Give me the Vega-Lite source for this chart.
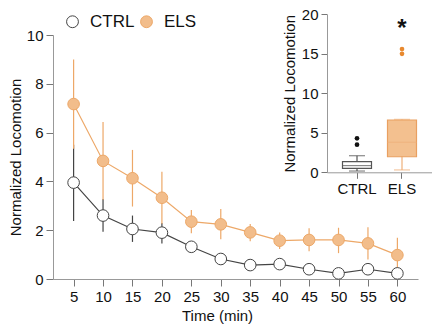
{
  "$schema": "https://vega.github.io/schema/vega-lite/v6.json",
  "width": 365,
  "height": 244,
  "autosize": {"type": "none"},
  "padding": {"left": 53, "top": 35, "right": 14, "bottom": 47},
  "config": {
    "view": {"stroke": null},
    "font": "Liberation Sans",
    "axis": {
      "labelFont": "Liberation Sans",
      "titleFont": "Liberation Sans",
      "labelColor": "#111",
      "titleColor": "#111",
      "titleFontWeight": "normal",
      "domainColor": "#999",
      "tickColor": "#777",
      "grid": false,
      "labelFontSize": 15,
      "titleFontSize": 15
    },
    "legend": {
      "labelFont": "Liberation Sans"
    }
  },
  "datasets": {
    "main": [
      {"time": 5, "group": "CTRL", "mean": 3.95, "lo": 2.38, "hi": 5.5},
      {"time": 10, "group": "CTRL", "mean": 2.6, "lo": 1.94, "hi": 3.28},
      {"time": 15, "group": "CTRL", "mean": 2.05, "lo": 1.52, "hi": 2.6},
      {"time": 20, "group": "CTRL", "mean": 1.9, "lo": 1.45, "hi": 2.3},
      {"time": 25, "group": "CTRL", "mean": 1.32, "lo": 1.15, "hi": 1.5},
      {"time": 30, "group": "CTRL", "mean": 0.82, "lo": 0.7, "hi": 0.95},
      {"time": 35, "group": "CTRL", "mean": 0.57, "lo": 0.47, "hi": 0.67},
      {"time": 40, "group": "CTRL", "mean": 0.61, "lo": 0.5, "hi": 0.72},
      {"time": 45, "group": "CTRL", "mean": 0.4, "lo": 0.32, "hi": 0.48},
      {"time": 50, "group": "CTRL", "mean": 0.23, "lo": 0.16, "hi": 0.3},
      {"time": 55, "group": "CTRL", "mean": 0.4, "lo": 0.3, "hi": 0.5},
      {"time": 60, "group": "CTRL", "mean": 0.23, "lo": 0.16, "hi": 0.3},
      {"time": 5, "group": "ELS", "mean": 7.17, "lo": 5.34, "hi": 9.0},
      {"time": 10, "group": "ELS", "mean": 4.84, "lo": 3.25, "hi": 6.43},
      {"time": 15, "group": "ELS", "mean": 4.13, "lo": 2.97, "hi": 5.29},
      {"time": 20, "group": "ELS", "mean": 3.33, "lo": 2.26, "hi": 4.4},
      {"time": 25, "group": "ELS", "mean": 2.35, "lo": 1.88, "hi": 2.83},
      {"time": 30, "group": "ELS", "mean": 2.24, "lo": 1.63, "hi": 2.87},
      {"time": 35, "group": "ELS", "mean": 1.91, "lo": 1.55, "hi": 2.25},
      {"time": 40, "group": "ELS", "mean": 1.57, "lo": 1.23, "hi": 1.91},
      {"time": 45, "group": "ELS", "mean": 1.6, "lo": 1.14, "hi": 2.08},
      {"time": 50, "group": "ELS", "mean": 1.6, "lo": 1.06, "hi": 2.1},
      {"time": 55, "group": "ELS", "mean": 1.46, "lo": 0.8, "hi": 2.12},
      {"time": 60, "group": "ELS", "mean": 0.98, "lo": 0.28, "hi": 1.69}
    ],
    "box": [
      {"group": "CTRL", "min": 0.16, "q1": 0.5, "median": 0.85, "q3": 1.34, "max": 2.1},
      {"group": "ELS", "min": 0.3, "q1": 1.97, "median": 3.8, "q3": 6.62, "max": 6.7}
    ],
    "outliers": [
      {"group": "CTRL", "value": 3.5},
      {"group": "CTRL", "value": 4.3},
      {"group": "ELS", "value": 15.0},
      {"group": "ELS", "value": 15.6}
    ],
    "sig": [
      {"group": "ELS", "value": 17.2, "label": "*"}
    ]
  },
  "layer": [
    {
      "data": {"name": "main"},
      "encoding": {
        "x": {
          "field": "time",
          "type": "quantitative",
          "scale": {"domain": [1.5, 63.5], "nice": false, "zero": false},
          "axis": {
            "orient": "bottom",
            "values": [5, 10, 15, 20, 25, 30, 35, 40, 45, 50, 55, 60],
            "title": "Time (min)",
            "tickSize": 7,
            "labelPadding": 3,
            "titleX": 164,
            "titleY": 41,
            "titleBaseline": "alphabetic"
          }
        }
      },
      "layer": [
        {
          "mark": {"type": "rule", "strokeWidth": 1.2},
          "encoding": {
            "y": {"field": "lo", "type": "quantitative", "scale": {"domain": [0, 10], "nice": false}},
            "y2": {"field": "hi"},
            "stroke": {"field": "group", "type": "nominal", "scale": {"domain": ["CTRL", "ELS"], "range": ["#444444", "#EDA868"]}}
          }
        },
        {
          "mark": {"type": "line", "strokeWidth": 1.2},
          "encoding": {
            "y": {"field": "mean", "type": "quantitative"},
            "stroke": {"field": "group", "type": "nominal"},
            "detail": {"field": "group"}
          }
        },
        {
          "mark": {"type": "point", "shape": "circle", "filled": true, "size": 135, "strokeWidth": 1, "opacity": 1},
          "encoding": {
            "y": {
              "field": "mean",
              "type": "quantitative",
              "axis": {
                "orient": "left",
                "values": [0, 2, 4, 6, 8, 10],
                "title": "Normalized Locomotion",
                "tickSize": 7,
                "labelPadding": 3,
                "titlePadding": 3
              }
            },
            "fill": {
              "field": "group",
              "type": "nominal",
              "scale": {"domain": ["CTRL", "ELS"], "range": ["#ffffff", "#F2BD8B"]},
              "legend": {
                "title": null,
                "orient": "none",
                "legendX": 11,
                "legendY": -22,
                "direction": "horizontal",
                "symbolType": "circle",
                "symbolSize": 140,
                "symbolStrokeWidth": 1,
                "labelFontSize": 17,
                "labelColor": "#111",
                "labelOffset": 9,
                "columnPadding": 3,
                "padding": 0
              }
            },
            "stroke": {"field": "group", "type": "nominal"}
          }
        }
      ]
    },
    {
      "encoding": {
        "x": {
          "field": "group",
          "type": "nominal",
          "scale": {"type": "band", "domain": ["CTRL", "ELS"], "range": [274, 379], "paddingInner": 0, "paddingOuter": 0.1667},
          "axis": {"orient": "bottom", "offset": -106.7, "title": null, "labelAngle": 0, "tickSize": 6, "labelPadding": 3}
        }
      },
      "layer": [
        {
          "data": {"name": "box"},
          "mark": {"type": "rule", "strokeWidth": 1.2},
          "encoding": {
            "y": {
              "field": "min",
              "type": "quantitative",
              "scale": {"domain": [0, 20], "range": [137.3, -20.7], "nice": false},
              "axis": {"orient": "left", "offset": -274, "values": [0, 5, 10, 15, 20], "title": "Normalized Locomotion", "tickSize": 6, "labelPadding": 3, "titlePadding": 4}
            },
            "y2": {"field": "max"},
            "color": {"field": "group", "type": "nominal", "scale": {"domain": ["CTRL", "ELS"], "range": ["#555555", "#EFB07A"]}, "legend": null}
          }
        },
        {
          "data": {"name": "box"},
          "mark": {"type": "bar", "size": 29, "strokeWidth": 1.2},
          "encoding": {
            "y": {"field": "q1", "type": "quantitative"},
            "y2": {"field": "q3"},
            "fill": {"field": "group", "type": "nominal", "scale": {"domain": ["CTRL", "ELS"], "range": ["#ffffff", "#F3C08F"]}, "legend": null},
            "stroke": {"field": "group", "type": "nominal", "scale": {"domain": ["CTRL", "ELS"], "range": ["#555555", "#E9A061"]}, "legend": null}
          }
        },
        {
          "data": {"name": "box"},
          "mark": {"type": "tick", "size": 29, "thickness": 1.2, "orient": "horizontal"},
          "encoding": {
            "y": {"field": "median", "type": "quantitative"},
            "color": {"field": "group", "type": "nominal", "legend": null}
          }
        },
        {
          "data": {"name": "box"},
          "mark": {"type": "tick", "size": 16, "thickness": 1.2, "orient": "horizontal"},
          "encoding": {
            "y": {"field": "min", "type": "quantitative"},
            "color": {"field": "group", "type": "nominal", "legend": null}
          }
        },
        {
          "data": {"name": "box"},
          "mark": {"type": "tick", "size": 16, "thickness": 1.2, "orient": "horizontal"},
          "encoding": {
            "y": {"field": "max", "type": "quantitative"},
            "color": {"field": "group", "type": "nominal", "legend": null}
          }
        },
        {
          "data": {"name": "outliers"},
          "transform": [{"filter": "datum.group === 'CTRL'"}],
          "mark": {"type": "point", "shape": "circle", "filled": true, "size": 22, "color": "#111111", "opacity": 1},
          "encoding": {
            "y": {"field": "value", "type": "quantitative"}
          }
        },
        {
          "data": {"name": "outliers"},
          "transform": [{"filter": "datum.group === 'ELS'"}],
          "mark": {"type": "point", "shape": "circle", "filled": true, "size": 22, "color": "#E8892F", "opacity": 1},
          "encoding": {
            "y": {"field": "value", "type": "quantitative"}
          }
        },
        {
          "data": {"name": "sig"},
          "mark": {"type": "text", "fontSize": 24, "fontWeight": "bold", "baseline": "alphabetic", "align": "center", "color": "#111"},
          "encoding": {
            "y": {"field": "value", "type": "quantitative"},
            "text": {"field": "label"}
          }
        }
      ]
    }
  ],
  "resolve": {
    "scale": {"x": "independent", "y": "independent", "fill": "independent", "stroke": "independent", "color": "independent"}
  }
}
